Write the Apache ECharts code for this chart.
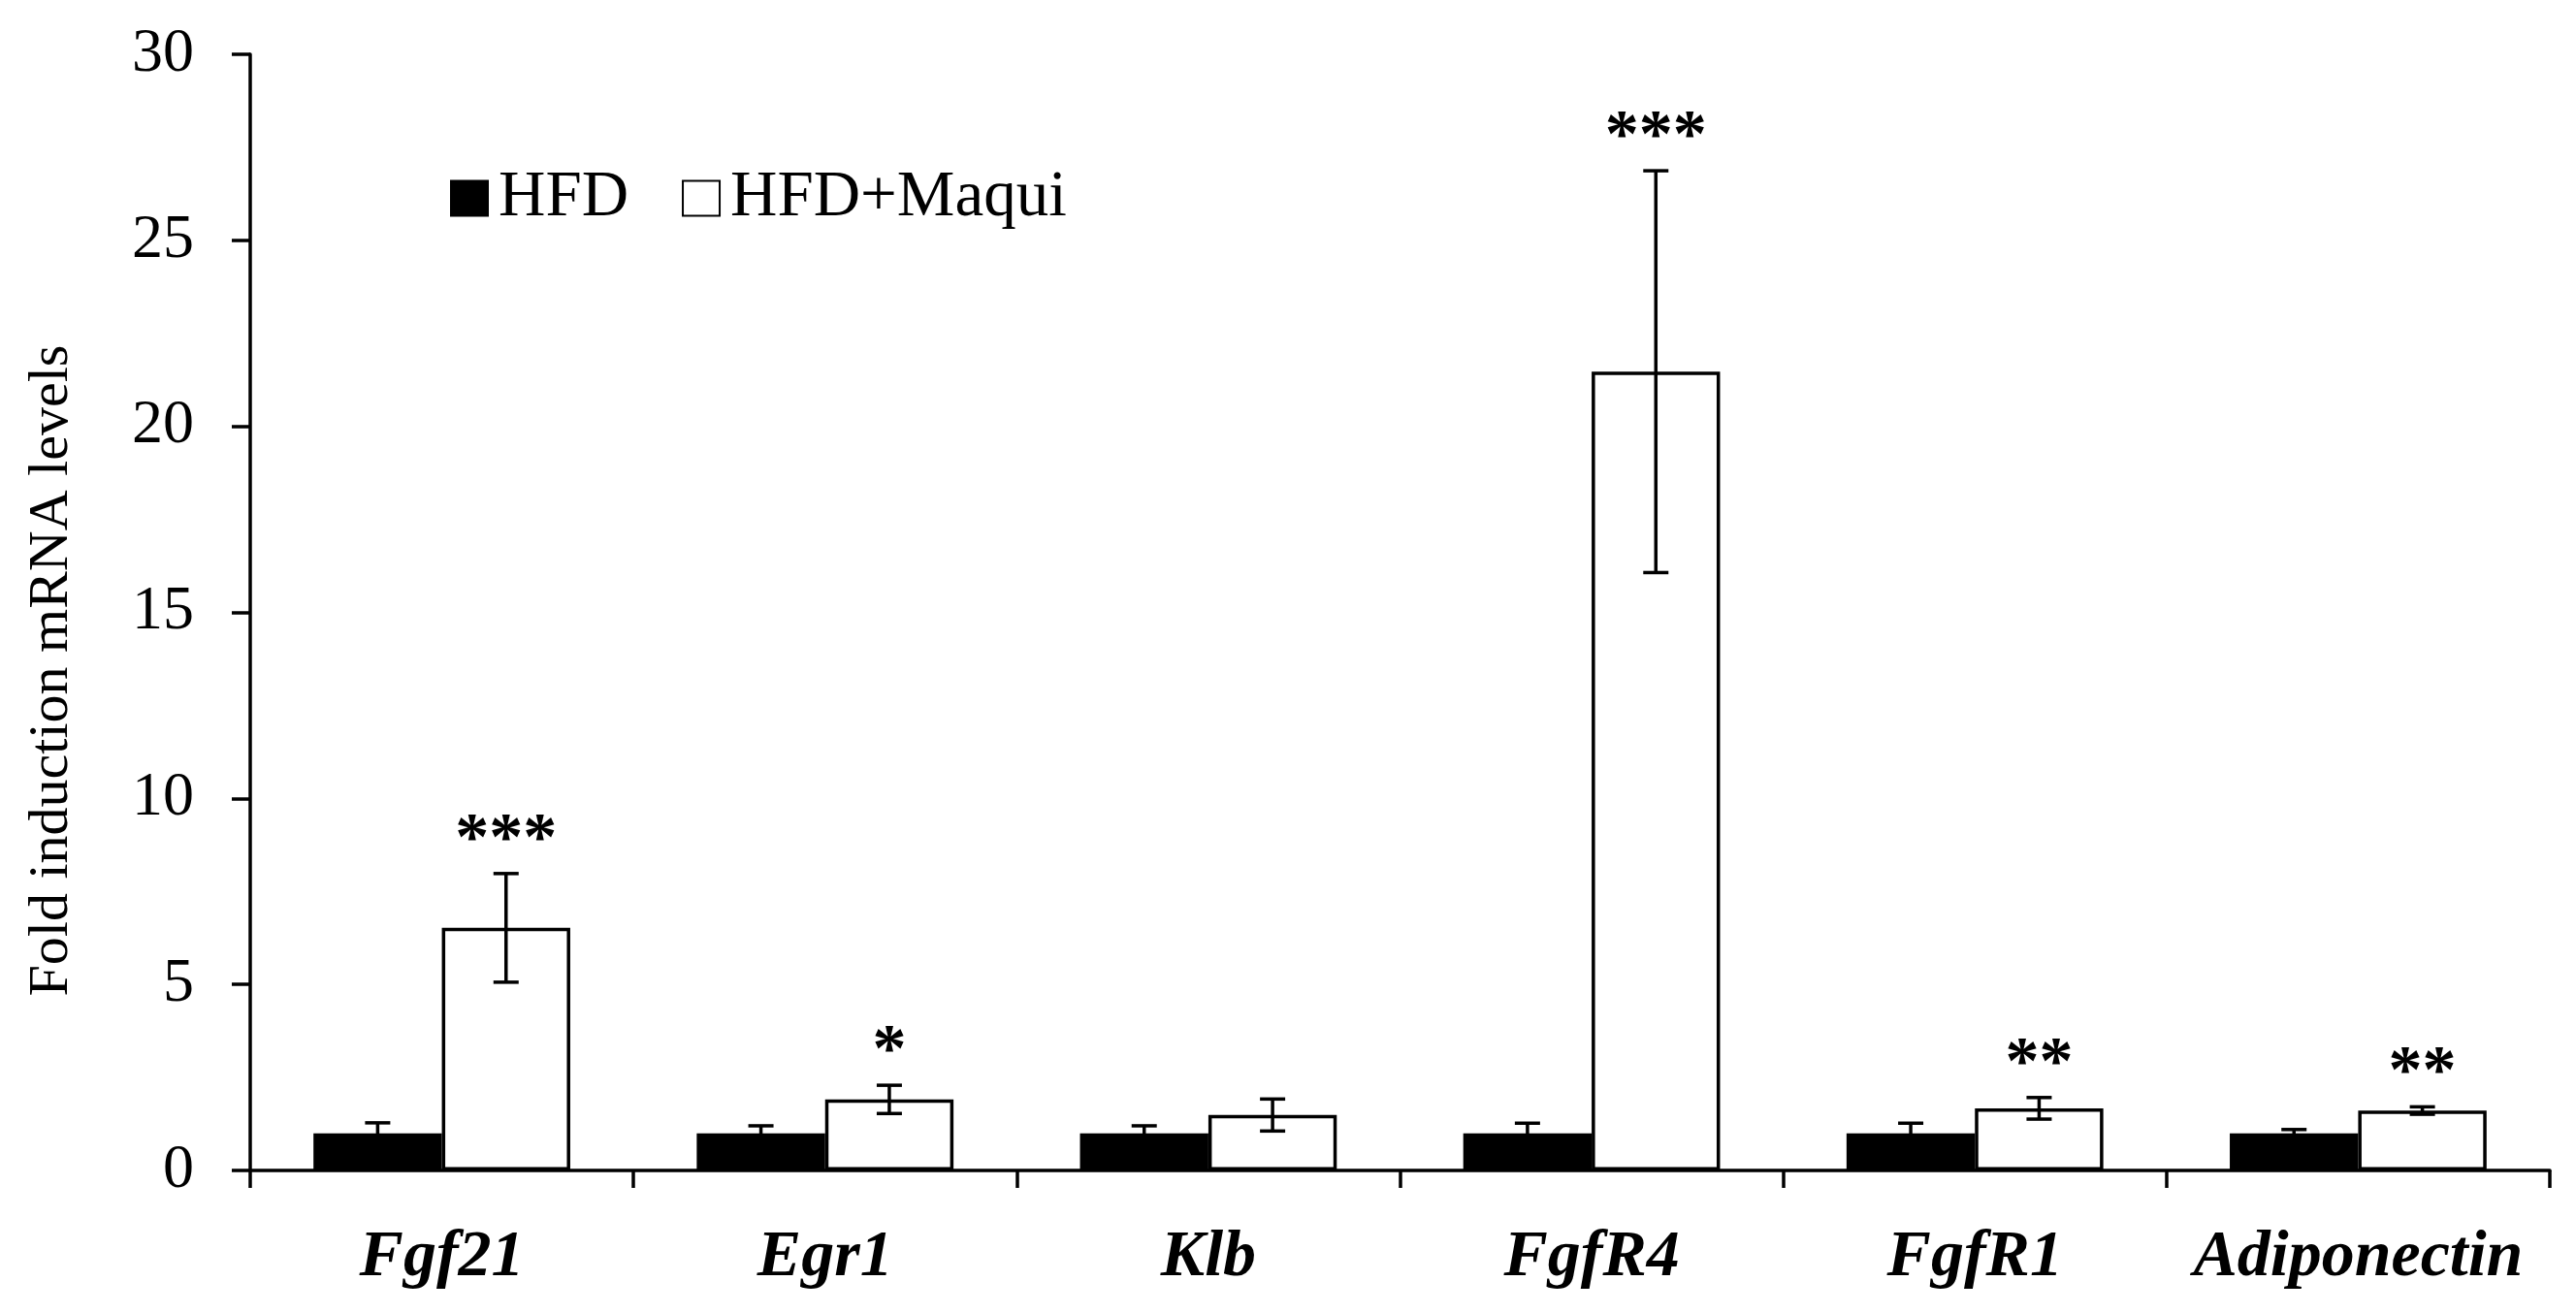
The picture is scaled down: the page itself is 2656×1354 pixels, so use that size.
<!DOCTYPE html>
<html>
<head>
<meta charset="utf-8">
<script src="https://cdn.jsdelivr.net/npm/echarts@6/dist/echarts.min.js"></script>
<style>
html,body{margin:0;padding:0;background:#fff;}
#chart{width:2656px;height:1354px;}
</style>
</head>
<body>
<div id="chart"></div>
<script>
const categories = ['Fgf21', 'Egr1', 'Klb', 'FgfR4', 'FgfR1', 'Adiponectin'];
const hfdValues = [1.0, 1.0, 1.0, 1.0, 1.0, 1.0];
const hfdErrors = [0.28, 0.2, 0.2, 0.27, 0.27, 0.1];
const maquiValues = [6.52, 1.91, 1.49, 21.47, 1.67, 1.61];
const maquiErrors = [1.46, 0.38, 0.43, 5.4, 0.29, 0.1];
const significance = ['***', '*', '', '***', '**', '**'];
const yTicks = [0, 5, 10, 15, 20, 25, 30];

const FONT = "'Liberation Serif', 'Times New Roman', serif";
const chart = echarts.init(document.getElementById('chart'), null, {renderer: 'canvas'});

const BAR_CAT_GAP = 0.33;

function errorRender(groupSign, withSig) {
  return function (params, api) {
    const idx = api.value(0);
    const mean = api.value(1);
    const err = api.value(2);
    const bandW = api.size([1, 0])[0];
    const barW = bandW * (1 - BAR_CAT_GAP) / 2;
    const center = api.coord([idx, mean]);
    const x = center[0] + groupSign * barW / 2;
    const top = api.coord([idx, mean + err])[1];
    const bot = api.coord([idx, mean - err])[1];
    const cap = 13;
    const style = {stroke: '#000', lineWidth: 3.5};
    const children = [
      {type: 'line', shape: {x1: x, y1: top, x2: x, y2: bot}, style: style},
      {type: 'line', shape: {x1: x - cap, y1: top, x2: x + cap, y2: top}, style: style},
      {type: 'line', shape: {x1: x - cap, y1: bot, x2: x + cap, y2: bot}, style: style}
    ];
    if (withSig) {
      const s = significance[params.dataIndex];
      if (s) {
        children.push({
          type: 'text',
          style: {
            text: s, x: x, y: top + 2,
            align: 'center', verticalAlign: 'bottom',
            font: 'bold 70px ' + FONT, fill: '#000'
          }
        });
      }
    }
    return {type: 'group', children: children};
  };
}

const option = {
  animation: false,
  backgroundColor: '#fff',
  grid: {left: 258, right: 27, top: 56, bottom: 147, containLabel: false},
  legend: {
    data: ['HFD', 'HFD+Maqui'],
    left: 459, top: 166,
    itemWidth: 38, itemHeight: 36, itemGap: 55,
    icon: 'rect',
    textStyle: {fontFamily: FONT, fontSize: 67, color: '#000', padding: [0, 0, 0, 6]}
  },
  xAxis: {
    type: 'category',
    data: categories,
    axisLine: {lineStyle: {color: '#000', width: 3.5}},
    axisTick: {show: true, interval: 0, length: 18, lineStyle: {color: '#000', width: 3.5}},
    axisLabel: {
      interval: 0,
      fontFamily: FONT, fontSize: 68, fontWeight: 'bold', fontStyle: 'italic',
      color: '#000', margin: 56
    },
    splitLine: {show: false}
  },
  yAxis: {
    type: 'value',
    min: yTicks[0], max: yTicks[yTicks.length - 1], interval: 5,
    name: 'Fold induction mRNA levels',
    nameLocation: 'middle',
    nameRotate: 90,
    nameGap: 175,
    nameTextStyle: {fontFamily: FONT, fontSize: 58, color: '#000', padding: [0, 120, 0, 0]},
    axisLine: {show: true, lineStyle: {color: '#000', width: 3.5}},
    axisTick: {show: true, length: 19, lineStyle: {color: '#000', width: 3.5}},
    axisLabel: {fontFamily: FONT, fontSize: 64, color: '#000', margin: 58},
    splitLine: {show: false}
  },
  series: [
    {
      name: 'HFD', type: 'bar', data: hfdValues,
      barGap: '0%', barCategoryGap: (BAR_CAT_GAP * 100) + '%',
      itemStyle: {color: '#000', borderColor: '#000', borderWidth: 3.5}
    },
    {
      name: 'HFD+Maqui', type: 'bar', data: maquiValues,
      barGap: '0%', barCategoryGap: (BAR_CAT_GAP * 100) + '%',
      itemStyle: {color: '#fff', borderColor: '#000', borderWidth: 3.5}
    },
    {
      name: 'HFD err', type: 'custom', z: 5,
      renderItem: errorRender(-1, false),
      encode: {x: 0, y: 1},
      data: categories.map((c, i) => [i, hfdValues[i], hfdErrors[i]])
    },
    {
      name: 'Maqui err', type: 'custom', z: 5,
      renderItem: errorRender(1, true),
      encode: {x: 0, y: 1},
      data: categories.map((c, i) => [i, maquiValues[i], maquiErrors[i]])
    }
  ]
};
chart.setOption(option);
</script>
</body>
</html>
